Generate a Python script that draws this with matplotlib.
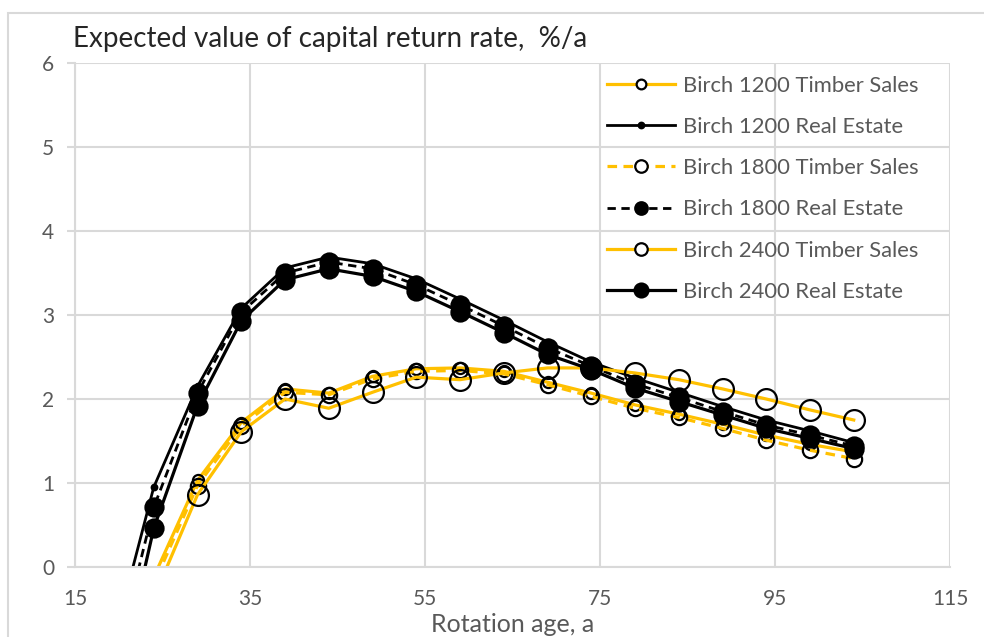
import matplotlib
matplotlib.use("Agg")
import matplotlib.pyplot as plt
from matplotlib.lines import Line2D
from matplotlib.patches import Rectangle

# rotation ages (a); the first point sits below zero and is clipped
ages = [19, 24, 29, 34, 39, 44, 49, 54, 59, 64, 69, 74, 79, 84, 89, 94, 99, 104]

# expected capital return rate, %/a
ts_1200 = [-2.0, -0.12, 1.03, 1.72, 2.12, 2.07, 2.27, 2.36, 2.37, 2.33, 2.20, 2.07, 1.93, 1.82, 1.70, 1.57, 1.46, 1.37]
re_1200 = [-1.05, 0.95, 2.15, 3.08, 3.56, 3.69, 3.61, 3.43, 3.19, 2.94, 2.68, 2.44, 2.25, 2.08, 1.91, 1.75, 1.62, 1.48]
ts_1800 = [-2.3, -0.2, 0.97, 1.68, 2.08, 2.05, 2.24, 2.33, 2.34, 2.30, 2.17, 2.03, 1.89, 1.78, 1.65, 1.51, 1.39, 1.29]
re_1800 = [-1.4, 0.71, 2.07, 3.03, 3.50, 3.63, 3.55, 3.36, 3.12, 2.87, 2.61, 2.39, 2.18, 2.02, 1.85, 1.69, 1.57, 1.44]
ts_2400 = [-2.8, -0.37, 0.86, 1.61, 2.00, 1.89, 2.08, 2.26, 2.23, 2.31, 2.37, 2.37, 2.31, 2.23, 2.12, 2.00, 1.87, 1.75]
re_2400 = [-1.84, 0.46, 1.92, 2.93, 3.42, 3.55, 3.46, 3.28, 3.04, 2.79, 2.53, 2.35, 2.13, 1.97, 1.81, 1.65, 1.53, 1.41]

labels = ["Birch 1200 Timber Sales", "Birch 1200 Real Estate",
          "Birch 1800 Timber Sales", "Birch 1800 Real Estate",
          "Birch 2400 Timber Sales", "Birch 2400 Real Estate"]

GOLD = "#FFC000"
GRAY = "#595959"
GRID = "#D9D9D9"
DASH = (0, (3, 2))

plt.rcParams["font.family"] = ["Lato", "DejaVu Sans"]

fig = plt.figure(figsize=(9.84, 6.37), dpi=100)
ax = fig.add_axes([75 / 984, 70 / 637, 875 / 984, 504 / 637])

# chart area border
fig.patches.append(Rectangle((8 / 984, -0.1), 1.2, (637 - 13) / 637 + 0.1,
                             transform=fig.transFigure, fill=False,
                             edgecolor=GRID, linewidth=1.5, clip_on=False))

# (values, color, linestyle, linewidth, marker size, filled, legend marker size)
styles = [
    (ts_1200, GOLD, "-", 2.3, 8, False, 7),
    (re_1200, "black", "-", 2.0, 4, True, 4),
    (ts_1800, GOLD, DASH, 2.3, 11, False, 9),
    (re_1800, "black", DASH, 2.0, 13, True, 9),
    (ts_2400, GOLD, "-", 2.3, 15, False, 9),
    (re_2400, "black", "-", 2.3, 13, True, 10),
]

handles = []
for (vals, col, ls, lw, ms, filled, lms), lab in zip(styles, labels):
    face = "black" if filled else "none"
    ax.plot(ages, vals, color=col, linestyle=ls, linewidth=lw,
            marker="o", markersize=ms, markerfacecolor=face,
            markeredgecolor="black", markeredgewidth=1.6)
    handles.append(Line2D([], [], color=col, linestyle=ls, linewidth=lw,
                          marker="o", markersize=lms,
                          markerfacecolor="black" if filled else "white",
                          markeredgecolor="black", markeredgewidth=1.6))

ax.set_xlim(15, 115)
ax.set_ylim(0, 6)
ax.set_xticks(range(15, 116, 20))
ax.set_yticks(range(0, 7))
ax.grid(True, color=GRID, linewidth=1.5)
ax.set_axisbelow(True)
for side in ["top", "right"]:
    ax.spines[side].set_visible(False)
for side in ["left", "bottom"]:
    ax.spines[side].set_color(GRID)
    ax.spines[side].set_linewidth(1.5)

ax.tick_params(axis="x", length=0, pad=16, labelsize=15, labelcolor=GRAY)
ax.tick_params(axis="y", length=6, width=1.5, color=GRID, pad=9,
               labelsize=15, labelcolor=GRAY)

ax.set_xlabel("Rotation age, a", fontsize=18, color=GRAY, labelpad=3)

fig.text(73 / 984, 1 - 47 / 637, "Expected value of capital return rate,  %/a",
         fontsize=20, color="#262626", va="baseline", ha="left")

leg = ax.legend(handles, labels, loc="upper left",
                bbox_to_anchor=(589 / 984, 1 - 58 / 637),
                bbox_transform=fig.transFigure, frameon=False,
                fontsize=15.8, labelcolor=GRAY, handlelength=3.1,
                handletextpad=0.37, labelspacing=0.97, borderpad=0.3)

fig.savefig("out.png", dpi=100)
